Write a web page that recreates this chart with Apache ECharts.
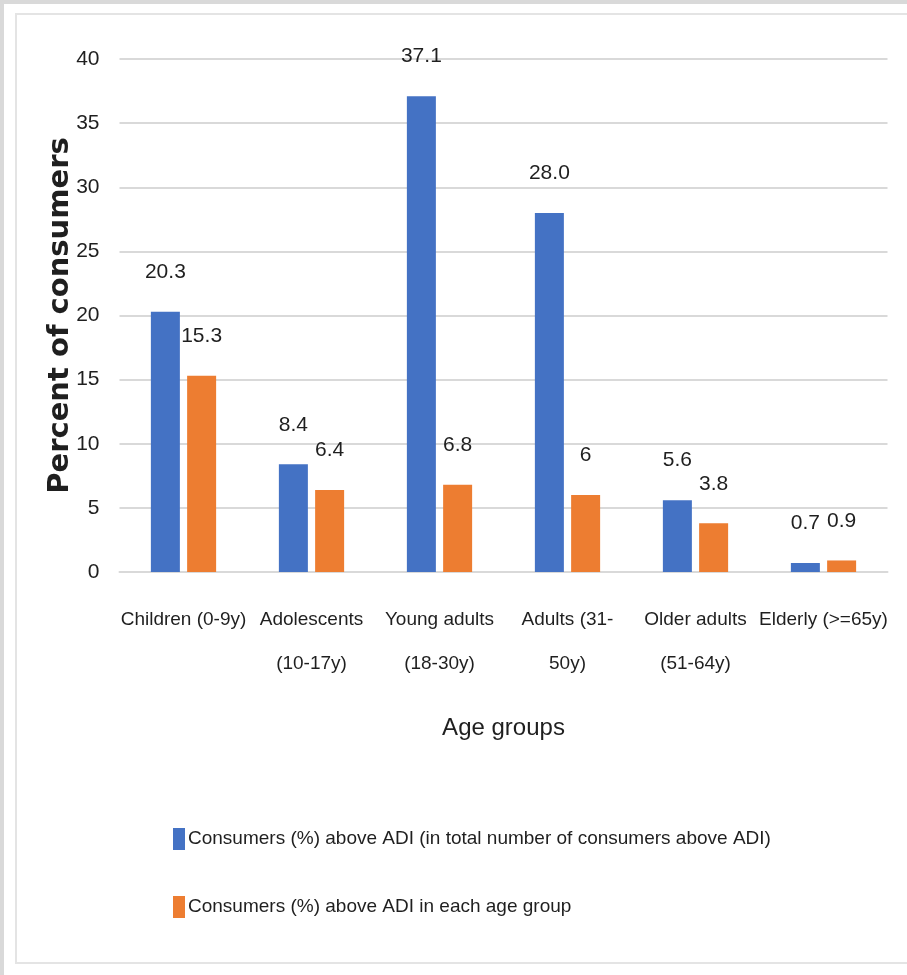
<!DOCTYPE html>
<html>
<head>
<meta charset="utf-8">
<script src="https://cdn.jsdelivr.net/npm/echarts@6/dist/echarts.min.js"></script>
<style>
    html, body { margin: 0; padding: 0; background: #ffffff; }
    #chart { width: 907px; height: 975px; }
</style>
</head>
<body>
<div id="chart"></div>
<script>
const categories = [
    'Children (0-9y)',
    'Adolescents\n(10-17y)',
    'Young adults\n(18-30y)',
    'Adults (31-\n50y)',
    'Older adults\n(51-64y)',
    'Elderly (>=65y)'
]
const totalShare = [20.3, 8.4, 37.1, 28.0, 5.6, 0.7]
const groupShare = [15.3, 6.4, 6.8, 6, 3.8, 0.9]
const seriesNames = [
    'Consumers (%) above ADI (in total number of consumers above ADI)',
    'Consumers (%) above ADI in each age group'
]

const narrow = '"Liberation Sans Narrow", "Liberation Sans", Arial, sans-serif'
const textColor = '#1f1f1f'

const myChart = echarts.init(document.getElementById('chart'))

const barLabel = function (fixed) {
    return {
        show: true,
        position: 'top',
        distance: 29,
        fontFamily: narrow,
        fontSize: 21,
        color: textColor,
        formatter: function (p) {
            return fixed ? p.value.toFixed(1) : String(p.value)
        }
    }
}

myChart.setOption({
    backgroundColor: '#ffffff',
    animation: false,
    graphic: [
        { type: 'rect', shape: { x: 0, y: 0, width: 4, height: 975 }, style: { fill: '#d9d9d9' } },
        { type: 'rect', shape: { x: 0, y: 0, width: 907, height: 4 }, style: { fill: '#d9d9d9' } },
        {
            type: 'rect',
            shape: { x: 16, y: 14, width: 920, height: 949 },
            style: { fill: 'none', stroke: '#e4e4e4', lineWidth: 2 }
        }
    ],
    grid: {
        left: 119.5,
        right: 19.5,
        top: 59,
        bottom: 403
    },
    legend: {
        orient: 'vertical',
        left: 173,
        top: 828,
        padding: 0,
        itemWidth: 12,
        itemHeight: 22,
        itemGap: 46,
        icon: 'rect',
        textStyle: {
            fontFamily: narrow,
            fontSize: 19,
            color: textColor,
            padding: [0, 0, 0, -2]
        },
        data: seriesNames
    },
    xAxis: {
        type: 'category',
        data: categories,
        name: 'Age groups',
        nameLocation: 'middle',
        nameGap: 144,
        nameTextStyle: {
            fontFamily: narrow,
            fontSize: 24,
            color: textColor
        },
        axisLine: {
            show: true,
            lineStyle: { color: '#d9d9d9', width: 2 }
        },
        axisTick: { show: false },
        axisLabel: {
            interval: 0,
            margin: 26,
            fontFamily: narrow,
            fontSize: 19,
            lineHeight: 44,
            color: textColor
        }
    },
    yAxis: {
        type: 'value',
        min: 0,
        max: 40,
        interval: 5,
        name: 'Percent of consumers',
        nameLocation: 'middle',
        nameRotate: 90,
        nameGap: 45,
        nameMoveOverlap: false,
        nameTextStyle: {
            fontFamily: '"DejaVu Sans", sans-serif',
            fontSize: 29,
            fontWeight: 'bold',
            color: textColor
        },
        axisLine: { show: false },
        axisTick: { show: false },
        axisLabel: {
            margin: 20,
            fontFamily: narrow,
            fontSize: 21,
            color: textColor
        },
        splitLine: {
            show: true,
            lineStyle: { color: '#d9d9d9', width: 2 }
        }
    },
    series: [
        {
            name: seriesNames[0],
            type: 'bar',
            data: totalShare,
            barWidth: 29,
            barGap: '25%',
            itemStyle: { color: '#4472C4' },
            label: barLabel(true)
        },
        {
            name: seriesNames[1],
            type: 'bar',
            data: groupShare,
            barWidth: 29,
            barGap: '25%',
            itemStyle: { color: '#ED7D31' },
            label: barLabel(false)
        }
    ]
})
</script>
</body>
</html>
